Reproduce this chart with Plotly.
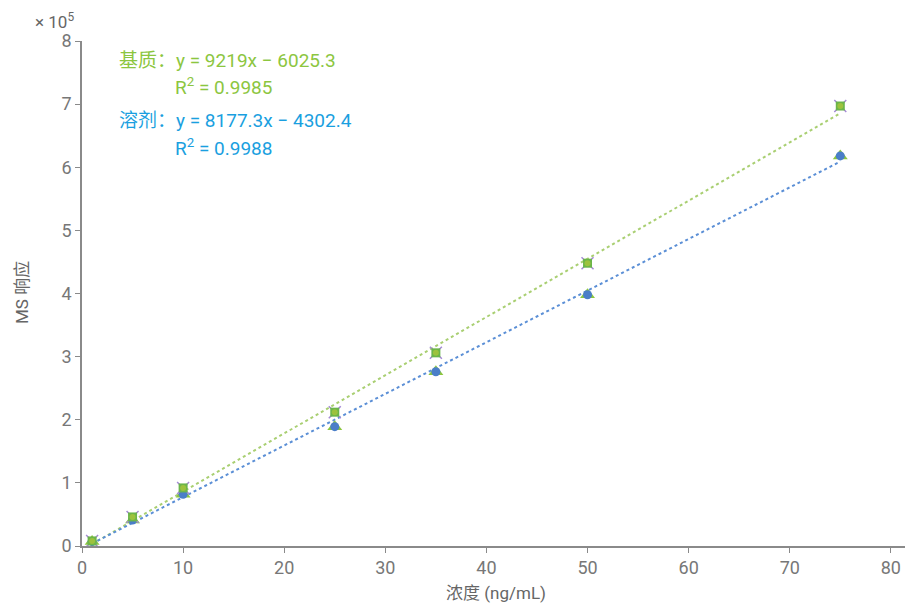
import plotly.graph_objects as go

conc = [1, 5, 10, 25, 35, 50, 75]
matrix_resp = [8000, 46000, 92000, 212000, 306000, 448000, 697000]
solvent_resp = [7000, 41000, 82000, 189000, 276000, 398000, 618000]
matrix_fit = (9219.0, -6025.3)
solvent_fit = (8177.3, -4302.4)
x_ticks = [0, 10, 20, 30, 40, 50, 60, 70, 80]
y_ticks = [0, 1, 2, 3, 4, 5, 6, 7, 8]

SCALE = 1e5
green_txt = "#8cc63f"
blue_txt = "#1a9fe0"

W, H = 906, 604
L, R, T, B = 82, 905, 41, 546
PW, PH = R - L, B - T

fig = go.Figure()
fx = [conc[0], conc[-1]]
fig.add_trace(go.Scatter(x=fx, y=[(matrix_fit[0]*v + matrix_fit[1])/SCALE for v in fx],
                         mode="lines", line=dict(color="#a9cf72", width=2, dash="dot"),
                         showlegend=False, hoverinfo="skip"))
fig.add_trace(go.Scatter(x=fx, y=[(solvent_fit[0]*v + solvent_fit[1])/SCALE for v in fx],
                         mode="lines", line=dict(color="#5b8fd6", width=2, dash="dot"),
                         showlegend=False, hoverinfo="skip"))
# solvent markers: green triangle base + blue circle
fig.add_trace(go.Scatter(x=conc, y=[v/SCALE for v in solvent_resp], mode="markers",
                         marker=dict(symbol="triangle-up", size=13, color="#8cc63f"),
                         showlegend=False))
fig.add_trace(go.Scatter(x=conc, y=[v/SCALE for v in solvent_resp], mode="markers",
                         marker=dict(symbol="circle", size=9, color="#4a7ec8"),
                         showlegend=False))
# matrix markers: purple x + green square + green circle
fig.add_trace(go.Scatter(x=conc, y=[v/SCALE for v in matrix_resp], mode="markers",
                         marker=dict(symbol="x-thin", size=12, line=dict(color="#a58ad6", width=1.5)),
                         showlegend=False))
fig.add_trace(go.Scatter(x=conc, y=[v/SCALE for v in matrix_resp], mode="markers",
                         marker=dict(symbol="square", size=9, color="#6bb54a"),
                         showlegend=False))
fig.add_trace(go.Scatter(x=conc, y=[v/SCALE for v in matrix_resp], mode="markers",
                         marker=dict(symbol="circle", size=6, color="#9cc23e"),
                         showlegend=False))

font_fam = "Roboto, 'Noto Sans CJK SC', sans-serif"

def px(x):
    return (x - L) / PW

def py(y):
    return (B - y) / PH

anns = [
    dict(text=f"基质：y = {matrix_fit[0]:.0f}x − {abs(matrix_fit[1])}", x=117, y=60, color=green_txt),
    dict(text="R<sup>2</sup> = 0.9985", x=173, y=87, color=green_txt),
    dict(text=f"溶剂：y = {solvent_fit[0]}x − {abs(solvent_fit[1])}", x=117, y=120, color=blue_txt),
    dict(text="R<sup>2</sup> = 0.9988", x=173, y=147, color=blue_txt),
]
for a in anns:
    fig.add_annotation(text=a["text"], xref="paper", yref="paper",
                       x=px(a["x"]), y=py(a["y"]), xanchor="left", yanchor="middle",
                       showarrow=False, font=dict(size=19, color=a["color"], family=font_fam))
fig.add_annotation(text="× 10<sup>5</sup>", xref="paper", yref="paper", x=px(76), y=py(21),
                   xanchor="right", yanchor="middle", showarrow=False,
                   font=dict(size=17, color="#666666", family=font_fam))
fig.add_annotation(text="浓度 (ng/mL)", xref="paper", yref="paper", x=px(496), y=py(593),
                   xanchor="center", yanchor="middle", showarrow=False,
                   font=dict(size=17, color="#666666", family=font_fam))
fig.add_annotation(text="MS 响应", xref="paper", yref="paper", x=px(22), y=py(293),
                   xanchor="center", yanchor="middle", showarrow=False, textangle=-90,
                   font=dict(size=17, color="#666666", family=font_fam))

axis_common = dict(showgrid=False, zeroline=False, showline=True, linecolor="#8a8a8a", linewidth=1.5,
                   ticks="outside", ticklen=5, tickcolor="#8a8a8a", automargin=False,
                   tickfont=dict(size=18, color="#777777", family=font_fam))
fig.update_xaxes(range=[0, 81.4], tickvals=x_ticks, ticktext=[str(t) for t in x_ticks], **axis_common)
fig.update_yaxes(range=[0, 8], tickvals=y_ticks, ticktext=[str(t) for t in y_ticks], **axis_common)
fig.update_layout(width=W, height=H, margin=dict(l=L, r=W - R, t=T, b=H - B, autoexpand=False),
                  plot_bgcolor="white", paper_bgcolor="white", showlegend=False)
fig.write_html("out.html", config={"displayModeBar": False},
               post_script="document.body.style.margin='0';"
                           "document.documentElement.style.overflow='hidden';")
